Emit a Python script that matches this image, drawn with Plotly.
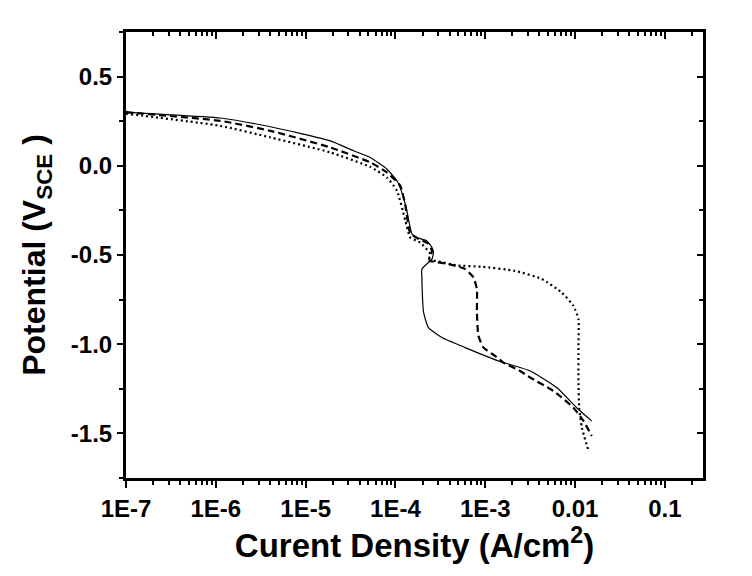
import plotly.graph_objects as go

# ---- data (current density in A/cm^2, potential in V vs SCE) ----
solid_i = [1.0e-7, 1.12e-7, 1.12e-6, 4.05e-6, 1.88e-5, 3.42e-5, 5.24e-5, 8.04e-5, 1.04e-4,
           1.23e-4, 1.34e-4, 1.53e-4, 1.73e-4, 2.24e-4, 2.55e-4, 2.65e-4, 2.55e-4, 2.33e-4,
           1.97e-4, 1.97e-4, 2.06e-4, 2.33e-4, 3.29e-4, 5.97e-4, 1.40e-3, 3.16e-3, 6.25e-3,
           1.04e-2, 1.53e-2]
solid_v = [0.305, 0.299, 0.268, 0.219, 0.140, 0.084, 0.047, -0.019, -0.084,
           -0.178, -0.252, -0.383, -0.402, -0.421, -0.458, -0.486, -0.523, -0.542,
           -0.579, -0.634, -0.823, -0.907, -0.963, -1.019, -1.094, -1.150, -1.243,
           -1.356, -1.430]

dash_i = [1.0e-7, 1.12e-6, 4.05e-6, 1.88e-5, 5.24e-5, 8.04e-5, 1.13e-4, 1.29e-4, 1.46e-4,
          1.79e-4, 2.32e-4, 2.55e-4, 2.38e-4, 2.44e-4, 3.90e-4, 5.97e-4, 7.40e-4, 8.07e-4,
          8.07e-4, 8.39e-4, 9.55e-4, 1.29e-3, 1.59e-3, 2.44e-3, 3.16e-3, 5.74e-3, 9.57e-3,
          1.24e-2, 1.53e-2]
dash_v = [0.300, 0.252, 0.196, 0.103, 0.019, -0.037, -0.112, -0.224, -0.376,
          -0.409, -0.437, -0.477, -0.522, -0.533, -0.551, -0.579, -0.626, -0.692,
          -0.823, -0.953, -1.019, -1.066, -1.103, -1.150, -1.187, -1.262, -1.356,
          -1.430, -1.514]

dot_i = [1.0e-7, 1.12e-6, 4.05e-6, 1.88e-5, 5.24e-5, 8.04e-5, 1.04e-4, 1.29e-4, 1.46e-4,
         1.88e-4, 2.44e-4, 2.33e-4, 2.77e-4, 4.83e-4, 9.16e-4, 2.15e-3, 4.27e-3, 7.11e-3,
         9.57e-3, 1.09e-2, 1.09e-2, 1.09e-2, 1.11e-2, 1.19e-2, 1.41e-2]
dot_v = [0.292, 0.224, 0.159, 0.075, -0.006, -0.066, -0.140, -0.308, -0.402,
         -0.430, -0.494, -0.533, -0.533, -0.558, -0.566, -0.589, -0.635, -0.711,
         -0.785, -0.860, -1.010, -1.206, -1.356, -1.468, -1.598]

x_tickvals = [1e-7, 1e-6, 1e-5, 1e-4, 1e-3, 1e-2, 1e-1]
x_ticktext = ["1E-7", "1E-6", "1E-5", "1E-4", "1E-3", "0.01", "0.1"]
x_minor = [m * d for d in [1e-7, 1e-6, 1e-5, 1e-4, 1e-3, 1e-2, 1e-1] for m in range(2, 10)]
y_tickvals = [0.5, 0.0, -0.5, -1.0, -1.5]
y_ticktext = ["0.5", "0.0", "-0.5", "-1.0", "-1.5"]

FONT = "Arial, 'Liberation Sans', sans-serif"

fig = go.Figure()
fig.add_trace(go.Scatter(x=solid_i, y=solid_v, mode="lines", line=dict(color="black", width=1.2, shape="spline", smoothing=0.5)))
fig.add_trace(go.Scatter(x=dash_i, y=dash_v, mode="lines", line=dict(color="black", width=2.2, dash="7px,4px", shape="spline", smoothing=0.5)))
fig.add_trace(go.Scatter(x=dot_i, y=dot_v, mode="lines", line=dict(color="black", width=2.2, dash="2px,3px", shape="spline", smoothing=0.5)))
# mirror axes (top/right, ticks inside)
fig.add_trace(go.Scatter(x=solid_i, y=solid_v, mode="lines", xaxis="x2", yaxis="y2",
                         line=dict(width=0), opacity=0, hoverinfo="skip", showlegend=False))

xrange = [-7.0, -0.576]
yrange = [-1.75, 0.75]

fig.update_layout(
    width=752, height=576,
    margin=dict(l=126, r=49, t=32, b=98),
    paper_bgcolor="white", plot_bgcolor="white",
    showlegend=False,
    font=dict(family=FONT, color="black"),
    xaxis=dict(type="log", range=xrange, showgrid=False, zeroline=False,
               showline=True, linewidth=3, linecolor="black",
               ticks="outside", ticklen=7, tickwidth=2, tickcolor="black",
               tickvals=x_tickvals, ticktext=x_ticktext,
               tickfont=dict(size=24, family=FONT, weight="bold"),
               minor=dict(ticks="outside", ticklen=4, tickwidth=1.5, tickcolor="black", tickvals=x_minor),
               title=dict(text="Curent Density (A/cm<sup>2</sup>)",
                          font=dict(size=33, family=FONT, weight="bold"), standoff=8)),
    yaxis=dict(range=yrange, showgrid=False, zeroline=False,
               showline=True, linewidth=3, linecolor="black",
               ticks="outside", ticklen=6, tickwidth=2, tickcolor="black",
               tickvals=y_tickvals, ticktext=y_ticktext,
               tickfont=dict(size=24, family=FONT, weight="bold"),
               minor=dict(ticks="outside", ticklen=4, tickwidth=1.5, tickcolor="black", dtick=0.25, tick0=0.25),
               title=dict(text="Potential (V<sub>SCE</sub> )",
                          font=dict(size=32, family=FONT, weight="bold"), standoff=16)),
    xaxis2=dict(type="log", range=xrange, overlaying="x", side="top", showgrid=False, zeroline=False,
                showline=True, linewidth=3, linecolor="black",
                ticks="inside", ticklen=7, tickwidth=2, tickcolor="black",
                tickvals=x_tickvals, showticklabels=False,
                minor=dict(ticks="inside", ticklen=4, tickwidth=1.5, tickcolor="black", tickvals=x_minor)),
    yaxis2=dict(range=yrange, overlaying="y", side="right", showgrid=False, zeroline=False,
                showline=True, linewidth=3, linecolor="black",
                ticks="inside", ticklen=6, tickwidth=2, tickcolor="black",
                tickvals=y_tickvals, showticklabels=False,
                minor=dict(ticks="inside", ticklen=4, tickwidth=1.5, tickcolor="black", dtick=0.25, tick0=0.25)),
)

fig.write_html("out.html")
